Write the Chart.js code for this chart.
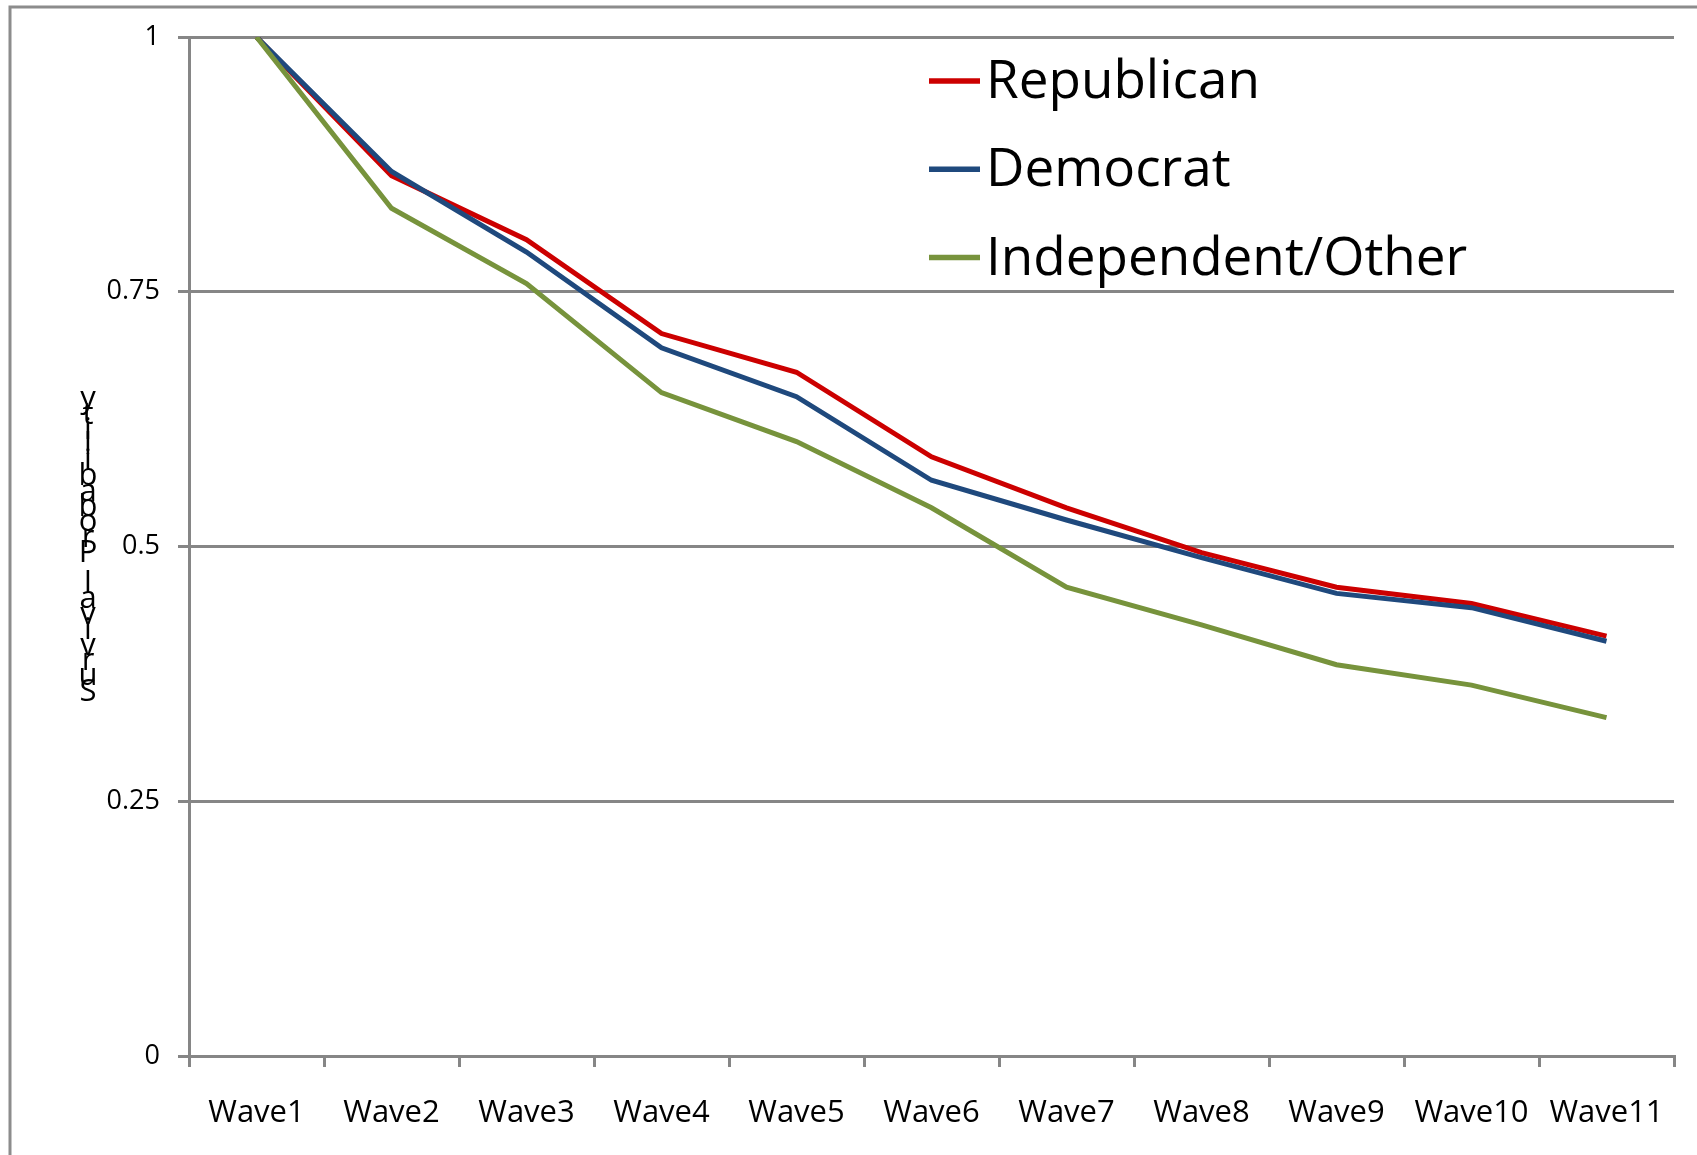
<!DOCTYPE html>
<html>
<head>
<meta charset="utf-8">
<script src="https://cdn.jsdelivr.net/npm/chart.js@4.4.0/dist/chart.umd.min.js"></script>
<style>
  html, body { margin: 0; padding: 0; background: #fff; overflow: hidden; }
  canvas { display: block; }
</style>
</head>
<body>
<canvas id="survivalChart" width="1697" height="1155"></canvas>
<script>
const waves = ['Wave1', 'Wave2', 'Wave3', 'Wave4', 'Wave5', 'Wave6', 'Wave7', 'Wave8', 'Wave9', 'Wave10', 'Wave11'];
const republican = [1, 0.864, 0.801, 0.709, 0.671, 0.588, 0.538, 0.494, 0.460, 0.444, 0.412];
const democrat = [1, 0.868, 0.789, 0.695, 0.647, 0.565, 0.526, 0.489, 0.454, 0.440, 0.407];
const independent = [1, 0.832, 0.758, 0.651, 0.603, 0.538, 0.460, 0.423, 0.384, 0.364, 0.332];
const yTicks = [0, 0.25, 0.5, 0.75, 1];
const yTitle = 'Survival Probability';

const axisGray = '#868686';
const fontFamily = '"Open Sans", "Noto Sans", sans-serif';

// frame, stacked y title and the legend are painted by hand
const extras = {
    id: 'extras',
    afterDraw(chart) {
        const c = chart.ctx;
        c.save();
        // outer frame (cut off right and bottom)
        c.strokeStyle = '#8c8c8c';
        c.lineWidth = 3;
        c.beginPath();
        c.moveTo(10, chart.height + 5);
        c.lineTo(10, 7);
        c.lineTo(chart.width + 5, 7);
        c.stroke();

        // y title: characters stacked upward
        c.fillStyle = '#000';
        c.font = '31px ' + fontFamily;
        c.textAlign = 'center';
        c.textBaseline = 'middle';
        const chars = yTitle.split('');
        chars.forEach((ch, i) => {
            c.fillText(ch, 88, 692 - i * 15.4);
        });

        // legend
        c.font = '53px ' + fontFamily;
        c.textAlign = 'left';
        chart.data.datasets.forEach((ds, i) => {
            const y = 81 + i * 88.3;
            c.strokeStyle = ds.borderColor;
            c.lineWidth = 5.5;
            c.beginPath();
            c.moveTo(929, y);
            c.lineTo(980, y);
            c.stroke();
            c.fillStyle = '#000';
            c.fillText(ds.label, 986, y + 2);
        });
        c.restore();
    }
};

const ctx = document.getElementById('survivalChart').getContext('2d');
const survivalChart = new Chart(ctx, {
    type: 'line',
    data: {
        labels: waves,
        datasets: [
            { label: 'Republican', data: republican, borderColor: '#cc0000', order: 3 },
            { label: 'Democrat', data: democrat, borderColor: '#1f497d', order: 2 },
            { label: 'Independent/Other', data: independent, borderColor: '#77933c', order: 1 }
        ]
    },
    options: {
        responsive: false,
        animation: false,
        devicePixelRatio: 1,
        layout: { padding: { top: 37, right: 23, left: 0, bottom: 0 } },
        elements: {
            line: { borderWidth: 5, tension: 0, fill: false },
            point: { radius: 0, hoverRadius: 0 }
        },
        plugins: {
            legend: { display: false },
            tooltip: { enabled: false }
        },
        scales: {
            x: {
                offset: true,
                grid: {
                    offset: true,
                    drawOnChartArea: false,
                    drawTicks: true,
                    tickLength: 11,
                    color: axisGray,
                    lineWidth: 3
                },
                border: { color: axisGray, width: 3 },
                ticks: {
                    color: '#000',
                    padding: 28,
                    maxRotation: 0,
                    autoSkip: false,
                    font: { family: fontFamily, size: 31 }
                },
                afterFit(scale) { scale.height = 99; }
            },
            y: {
                min: 0,
                max: 1,
                afterBuildTicks(scale) { scale.ticks = yTicks.map(v => ({ value: v })); },
                grid: {
                    color: axisGray,
                    lineWidth: 3,
                    tickLength: 11
                },
                border: { color: axisGray, width: 3 },
                ticks: {
                    color: '#000',
                    padding: 18,
                    font: { family: fontFamily, size: 27 },
                    callback: v => String(v)
                },
                afterFit(scale) { scale.width = 189; }
            }
        }
    },
    plugins: [extras]
});
</script>
</body>
</html>
